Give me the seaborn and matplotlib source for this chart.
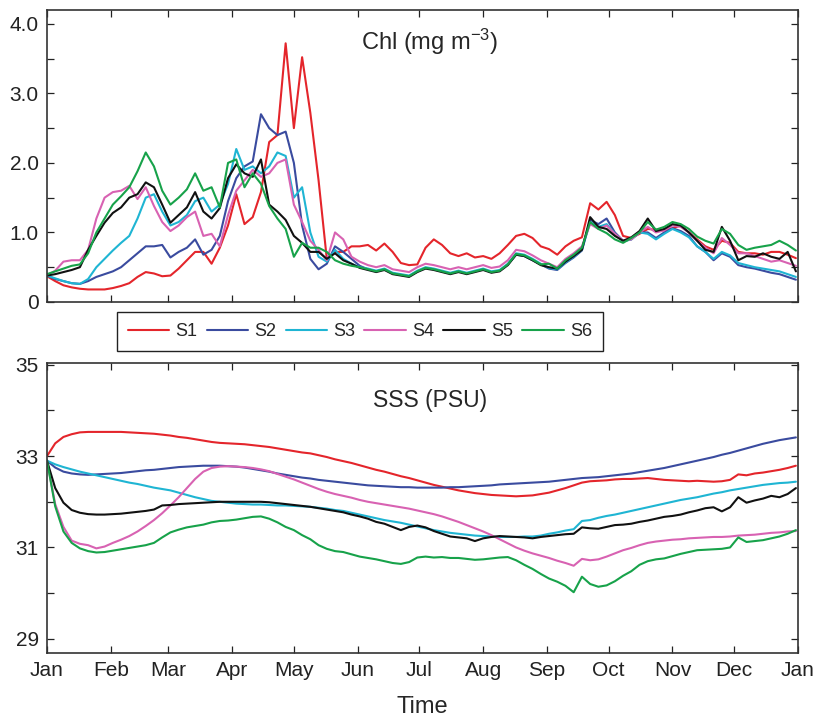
import numpy as np
import pandas as pd
import matplotlib
matplotlib.use("Agg")
import matplotlib.pyplot as plt
import seaborn as sns

# ---------------- data ----------------
days = list(range(0, 365, 4))  # day of year, every 4 days (0..364)
stations = ["S1", "S2", "S3", "S4", "S5", "S6"]
colors = ["#e4252b", "#3a4b9f", "#1fb5d3", "#d862b2", "#111111", "#17a24a"]
month_days = [0, 31, 59, 90, 120, 151, 181, 212, 243, 273, 304, 334, 365]
month_labels = ["Jan", "Feb", "Mar", "Apr", "May", "Jun", "Jul", "Aug", "Sep",
                "Oct", "Nov", "Dec", "Jan"]
chl_ticks = [0, 0.5, 1.0, 1.5, 2.0, 2.5, 3.0, 3.5, 4.0]
chl_ticklabels = ["0", "", "1.0", "", "2.0", "", "3.0", "", "4.0"]
sss_ticks = [29, 30, 31, 32, 33, 34, 35]
sss_ticklabels = ["29", "", "31", "", "33", "", "35"]

chl_s1 = [0.37, 0.30, 0.24, 0.21, 0.19, 0.18, 0.18, 0.18, 0.20, 0.23,
          0.27, 0.36, 0.43, 0.41, 0.37, 0.38, 0.48, 0.60, 0.72, 0.72,
          0.55, 0.78, 1.10, 1.55, 1.12, 1.22, 1.58, 2.30, 2.40, 3.72,
          2.50, 3.52, 2.72, 1.75, 0.62, 0.72, 0.72, 0.80, 0.80, 0.82,
          0.74, 0.84, 0.72, 0.56, 0.53, 0.54, 0.78, 0.90, 0.82, 0.70,
          0.66, 0.70, 0.64, 0.66, 0.62, 0.70, 0.82, 0.95, 0.98, 0.92,
          0.80, 0.76, 0.68, 0.80, 0.88, 0.93, 1.42, 1.33, 1.44, 1.25,
          0.95, 0.92, 0.98, 1.05, 1.04, 1.03, 1.06, 1.10, 1.00, 0.90,
          0.80, 0.75, 0.88, 0.85, 0.72, 0.70, 0.70, 0.68, 0.72, 0.72,
          0.68, 0.63]
chl_s2 = [0.38, 0.33, 0.30, 0.27, 0.26, 0.30, 0.36, 0.40, 0.44, 0.50,
          0.60, 0.70, 0.80, 0.80, 0.82, 0.64, 0.72, 0.78, 0.90, 0.68,
          0.75, 0.95, 1.45, 1.78, 1.95, 2.02, 2.70, 2.50, 2.40, 2.45,
          2.00, 1.10, 0.62, 0.47, 0.55, 0.80, 0.72, 0.62, 0.52, 0.47,
          0.44, 0.47, 0.41, 0.39, 0.37, 0.44, 0.49, 0.47, 0.44, 0.41,
          0.44, 0.41, 0.44, 0.47, 0.43, 0.45, 0.54, 0.68, 0.66, 0.60,
          0.54, 0.48, 0.46, 0.56, 0.64, 0.74, 1.18, 1.12, 1.20, 1.00,
          0.88, 0.90, 1.00, 1.00, 0.92, 1.00, 1.06, 1.02, 0.95, 0.80,
          0.72, 0.60, 0.70, 0.65, 0.53, 0.50, 0.48, 0.45, 0.42, 0.40,
          0.36, 0.32]
chl_s3 = [0.38, 0.34, 0.30, 0.27, 0.26, 0.33, 0.50, 0.62, 0.74, 0.85,
          0.95, 1.20, 1.50, 1.55, 1.30, 1.10, 1.15, 1.25, 1.45, 1.50,
          1.30, 1.40, 1.70, 2.20, 1.90, 1.95, 1.85, 1.95, 2.15, 2.10,
          1.50, 1.65, 1.00, 0.65, 0.58, 0.75, 0.62, 0.55, 0.50, 0.48,
          0.45, 0.48, 0.42, 0.40, 0.38, 0.45, 0.50, 0.48, 0.45, 0.42,
          0.45, 0.42, 0.45, 0.48, 0.44, 0.46, 0.55, 0.70, 0.68, 0.62,
          0.55, 0.49, 0.47, 0.57, 0.65, 0.75, 1.15, 1.08, 1.12, 0.98,
          0.87, 0.90, 1.00, 0.98, 0.90, 0.98, 1.05, 1.00, 0.93, 0.80,
          0.72, 0.62, 0.72, 0.67, 0.56, 0.53, 0.50, 0.48, 0.46, 0.44,
          0.40, 0.36]
chl_s4 = [0.38, 0.45, 0.58, 0.60, 0.60, 0.75, 1.20, 1.50, 1.58, 1.60,
          1.67, 1.48, 1.65, 1.38, 1.15, 1.02, 1.10, 1.22, 1.30, 0.95,
          0.98, 0.80, 1.25, 1.60, 1.75, 1.90, 1.80, 1.85, 2.00, 2.05,
          1.40, 1.15, 0.88, 0.75, 0.60, 1.00, 0.90, 0.65, 0.58, 0.53,
          0.50, 0.53, 0.47, 0.45, 0.43, 0.50, 0.55, 0.53, 0.50, 0.47,
          0.50, 0.47, 0.50, 0.53, 0.49, 0.51, 0.60, 0.75, 0.73, 0.67,
          0.60, 0.55, 0.50, 0.62, 0.70, 0.80, 1.12, 1.05, 1.10, 0.98,
          0.88, 0.90, 1.00, 1.08, 1.00, 1.03, 1.10, 1.08, 1.00, 0.88,
          0.78, 0.70, 0.92, 0.82, 0.70, 0.70, 0.66, 0.62, 0.58, 0.60,
          0.56, 0.52]
chl_s5 = [0.38, 0.40, 0.43, 0.46, 0.50, 0.75, 0.95, 1.14, 1.28, 1.36,
          1.50, 1.55, 1.72, 1.65, 1.40, 1.14, 1.25, 1.36, 1.58, 1.30,
          1.20, 1.35, 1.78, 1.98, 1.85, 1.80, 2.05, 1.40, 1.30, 1.18,
          0.95, 0.85, 0.72, 0.72, 0.62, 0.70, 0.60, 0.55, 0.49, 0.46,
          0.43, 0.46, 0.40, 0.38, 0.36, 0.43, 0.48, 0.46, 0.43, 0.40,
          0.43, 0.40, 0.43, 0.46, 0.42, 0.44, 0.53, 0.68, 0.66, 0.60,
          0.53, 0.50, 0.48, 0.58, 0.66, 0.75, 1.22, 1.08, 1.05, 0.95,
          0.88, 0.93, 1.02, 1.20, 1.02, 1.05, 1.12, 1.10, 1.00, 0.88,
          0.75, 0.72, 1.08, 0.88, 0.60, 0.66, 0.65, 0.70, 0.65, 0.62,
          0.72, 0.44]
chl_s6 = [0.40, 0.44, 0.48, 0.52, 0.54, 0.70, 1.00, 1.20, 1.40, 1.52,
          1.65, 1.88, 2.15, 1.95, 1.60, 1.40, 1.50, 1.62, 1.85, 1.60,
          1.65, 1.36, 2.00, 2.05, 1.65, 1.85, 1.70, 1.38, 1.20, 1.05,
          0.65, 0.85, 0.78, 0.78, 0.72, 0.60, 0.55, 0.52, 0.50, 0.47,
          0.44, 0.47, 0.41, 0.39, 0.37, 0.44, 0.49, 0.47, 0.44, 0.41,
          0.44, 0.41, 0.44, 0.47, 0.43, 0.45, 0.54, 0.69, 0.67, 0.61,
          0.54, 0.55, 0.48, 0.60, 0.68, 0.78, 1.15, 1.05, 0.99, 0.90,
          0.85, 0.92, 1.00, 1.15, 1.04, 1.08, 1.15, 1.12, 1.05, 0.94,
          0.88, 0.84, 1.05, 0.98, 0.82, 0.75, 0.78, 0.80, 0.82, 0.88,
          0.82, 0.74]

sss_s1 = [33.00, 33.28, 33.42, 33.48, 33.52, 33.53, 33.53, 33.53, 33.53, 33.53,
          33.52, 33.51, 33.50, 33.49, 33.47, 33.45, 33.42, 33.40, 33.37, 33.34,
          33.31, 33.29, 33.28, 33.27, 33.26, 33.24, 33.22, 33.20, 33.17, 33.14,
          33.11, 33.08, 33.06, 33.02, 32.98, 32.93, 32.89, 32.85, 32.80, 32.75,
          32.70, 32.66, 32.61, 32.56, 32.52, 32.47, 32.42, 32.37, 32.33, 32.29,
          32.25, 32.22, 32.19, 32.17, 32.15, 32.14, 32.13, 32.12, 32.13, 32.14,
          32.17, 32.20, 32.25, 32.30, 32.36, 32.42, 32.45, 32.46, 32.47, 32.49,
          32.50, 32.50, 32.51, 32.52, 32.50, 32.48, 32.47, 32.46, 32.45, 32.46,
          32.45, 32.44, 32.45, 32.48, 32.60, 32.58, 32.62, 32.64, 32.67, 32.70,
          32.74, 32.79]
sss_s2 = [32.90, 32.75, 32.66, 32.62, 32.60, 32.59, 32.60, 32.61, 32.62, 32.63,
          32.65, 32.67, 32.69, 32.70, 32.72, 32.74, 32.76, 32.77, 32.78, 32.79,
          32.79, 32.79, 32.78, 32.77, 32.75, 32.72, 32.69, 32.66, 32.62, 32.59,
          32.56, 32.53, 32.51, 32.48, 32.46, 32.44, 32.42, 32.40, 32.38, 32.36,
          32.35, 32.34, 32.33, 32.32, 32.32, 32.31, 32.31, 32.31, 32.31, 32.32,
          32.32, 32.33, 32.34, 32.35, 32.36, 32.38, 32.39, 32.40, 32.41, 32.42,
          32.43, 32.44, 32.46, 32.48, 32.50, 32.52, 32.53, 32.54, 32.56, 32.58,
          32.60, 32.62, 32.65, 32.68, 32.71, 32.74, 32.78, 32.82, 32.86, 32.90,
          32.94, 32.98, 33.03, 33.07, 33.12, 33.17, 33.22, 33.27, 33.31, 33.35,
          33.38, 33.41]
sss_s3 = [32.90, 32.82, 32.76, 32.71, 32.66, 32.62, 32.58, 32.54, 32.50, 32.46,
          32.42, 32.39, 32.35, 32.31, 32.28, 32.25, 32.20, 32.15, 32.10, 32.06,
          32.02, 32.00, 31.98, 31.96, 31.95, 31.94, 31.94, 31.93, 31.92, 31.92,
          31.91, 31.90, 31.89, 31.87, 31.85, 31.82, 31.80, 31.76, 31.72, 31.68,
          31.64, 31.60, 31.57, 31.54, 31.50, 31.46, 31.42, 31.38, 31.35, 31.32,
          31.30, 31.28, 31.26, 31.25, 31.24, 31.23, 31.23, 31.23, 31.24, 31.24,
          31.26, 31.30, 31.33, 31.37, 31.40, 31.58, 31.60, 31.65, 31.69, 31.72,
          31.76, 31.80, 31.84, 31.88, 31.92, 31.96, 32.00, 32.04, 32.07, 32.10,
          32.14, 32.18, 32.21, 32.25, 32.28, 32.31, 32.34, 32.37, 32.39, 32.41,
          32.42, 32.44]
sss_s4 = [32.90, 31.95, 31.45, 31.15, 31.08, 31.05, 30.98, 31.02, 31.10, 31.17,
          31.25, 31.35, 31.47, 31.60, 31.75, 31.92, 32.10, 32.30, 32.50, 32.66,
          32.74, 32.77, 32.78, 32.77, 32.76, 32.74, 32.71, 32.67, 32.61, 32.55,
          32.49, 32.42, 32.35, 32.28, 32.22, 32.17, 32.13, 32.09, 32.04, 32.00,
          31.97, 31.94, 31.91, 31.88, 31.85, 31.81, 31.77, 31.73, 31.68, 31.62,
          31.56, 31.49, 31.42, 31.35, 31.27, 31.18, 31.09, 31.00, 30.93, 30.87,
          30.82, 30.77, 30.71, 30.66, 30.60, 30.75, 30.72, 30.74, 30.80, 30.87,
          30.94, 30.99, 31.05, 31.10, 31.13, 31.15, 31.17, 31.18, 31.20, 31.21,
          31.22, 31.23, 31.23, 31.24, 31.26, 31.27, 31.28, 31.30, 31.32, 31.33,
          31.35, 31.36]
sss_s5 = [32.90, 32.30, 31.98, 31.82, 31.76, 31.73, 31.72, 31.72, 31.73, 31.74,
          31.76, 31.78, 31.80, 31.83, 31.92, 31.93, 31.95, 31.96, 31.97, 31.98,
          31.99, 32.00, 32.00, 32.00, 32.00, 32.00, 32.00, 31.99, 31.97, 31.95,
          31.93, 31.91, 31.89, 31.86, 31.83, 31.80, 31.77, 31.72, 31.68, 31.63,
          31.56, 31.52, 31.45, 31.38, 31.45, 31.48, 31.44, 31.36, 31.30, 31.24,
          31.22, 31.20, 31.14, 31.20, 31.23, 31.25, 31.24, 31.23, 31.22, 31.20,
          31.23, 31.25, 31.27, 31.29, 31.30, 31.44, 31.42, 31.41, 31.45, 31.49,
          31.50, 31.52, 31.56, 31.59, 31.63, 31.67, 31.69, 31.72, 31.77, 31.81,
          31.86, 31.88, 31.79, 31.88, 32.10, 31.98, 32.03, 32.07, 32.13, 32.10,
          32.17, 32.30]
sss_s6 = [32.90, 31.90, 31.35, 31.10, 30.98, 30.92, 30.89, 30.90, 30.93, 30.96,
          30.99, 31.02, 31.05, 31.10, 31.22, 31.33, 31.39, 31.44, 31.47, 31.50,
          31.55, 31.58, 31.59, 31.61, 31.64, 31.67, 31.68, 31.63, 31.55, 31.45,
          31.38, 31.27, 31.18, 31.05, 30.97, 30.92, 30.90, 30.85, 30.80, 30.77,
          30.74, 30.70, 30.66, 30.64, 30.68, 30.78, 30.80, 30.78, 30.79, 30.77,
          30.77, 30.75, 30.73, 30.74, 30.76, 30.78, 30.79, 30.72, 30.62, 30.53,
          30.42, 30.32, 30.25, 30.16, 30.02, 30.36, 30.20, 30.14, 30.17, 30.26,
          30.38, 30.48, 30.62, 30.70, 30.74, 30.76, 30.81, 30.86, 30.90, 30.94,
          30.95, 30.96, 30.97, 31.00, 31.22, 31.12, 31.14, 31.16, 31.20, 31.24,
          31.30, 31.38]

chl_all = [chl_s1, chl_s2, chl_s3, chl_s4, chl_s5, chl_s6]
sss_all = [sss_s1, sss_s2, sss_s3, sss_s4, sss_s5, sss_s6]

rows = []
for st, c_vals, s_vals in zip(stations, chl_all, sss_all):
    for d, c, s in zip(days, c_vals, s_vals):
        rows.append({"day": d, "station": st, "chl": c, "sss": s})
df = pd.DataFrame(rows)
palette = dict(zip(stations, colors))

# ---------------- style ----------------
sns.set_style("ticks")
plt.rcParams["font.family"] = ["Liberation Sans", "DejaVu Sans"]
plt.rcParams["mathtext.default"] = "regular"

fig = plt.figure(figsize=(8.17, 7.2), dpi=100)
ax1 = fig.add_axes([0.0575, 0.5806, 0.9192, 0.4056])
ax2 = fig.add_axes([0.0575, 0.0931, 0.9192, 0.4028])

sns.lineplot(data=df, x="day", y="chl", hue="station", hue_order=stations,
             palette=palette, estimator=None, linewidth=1.5, ax=ax1, legend=True)
sns.lineplot(data=df, x="day", y="sss", hue="station", hue_order=stations,
             palette=palette, estimator=None, linewidth=1.5, ax=ax2, legend=False)

for ax in (ax1, ax2):
    ax.set_xlim(0, 365)
    ax.set_xticks(month_days)
    ax.tick_params(direction="in", top=True, right=True, length=5, width=0.9,
                   labelsize=15, pad=6, colors="#222222")
    for sp in ax.spines.values():
        sp.set_visible(True)
        sp.set_linewidth(1.2)
        sp.set_color("#333333")
    ax.set_ylabel("")

ax1.set_ylim(0, 4.2)
ax1.set_yticks(chl_ticks)
ax1.set_yticklabels(chl_ticklabels)
ax1.set_xticklabels([])
ax1.set_xlabel("")
ax1.text(0.51, 0.89, "Chl (mg m$^{-3}$)", transform=ax1.transAxes,
         ha="center", va="center", fontsize=17)

ax2.set_ylim(28.69, 35.04)
ax2.set_yticks(sss_ticks)
ax2.set_yticklabels(sss_ticklabels)
ax2.set_xticklabels(month_labels)
ax2.set_xlabel("Time", fontsize=17, labelpad=11)
ax2.text(0.51, 0.872, "SSS (PSU)", transform=ax2.transAxes,
         ha="center", va="center", fontsize=16.5)

sns.move_legend(ax1, "center", bbox_to_anchor=(0.4168, -0.101), ncol=6,
                title=None, frameon=True, fancybox=False, fontsize=13,
                handlelength=2.3, handletextpad=0.35, columnspacing=0.5,
                borderpad=0.6, framealpha=1, edgecolor="#222222")
leg = ax1.get_legend()
leg.get_frame().set_linewidth(1.0)
for line in leg.get_lines():
    line.set_linewidth(1.5)

fig.savefig("out.png", dpi=100)
